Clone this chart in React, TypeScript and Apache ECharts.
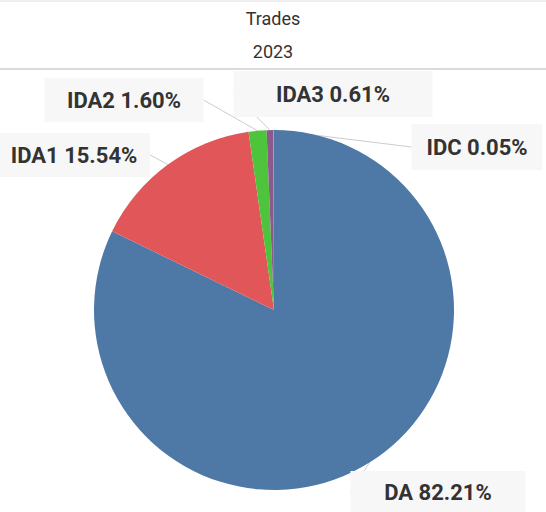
import React, { useEffect, useRef } from "react";
import * as echarts from "echarts";

const categories = ["DA", "IDA1", "IDA2", "IDA3", "IDC"];
const shares = [82.21, 15.54, 1.6, 0.61, 0.05];
const sliceColors = ["#4e79a7", "#e15759", "#4dc43b", "#8b5a8b", "#b07aa1"];
const titleText = "Trades";
const subTitleText = "2023";

// label placement (layout only, not data)
const labelSpots = [
  [438, 492],
  [74, 155],
  [124, 100],
  [333, 94],
  [477, 147],
];
const labelPads = [
  [10, 33],
  [11, 12],
  [11, 22],
  [12, 42],
  [12, 14],
];

const LABEL_FONT = "bold 22px Roboto";

function labelText(name: string, value: number) {
  return `${name} ${value.toFixed(2)}%`;
}

function measure(text: string) {
  const c = document.createElement("canvas");
  const ctx = c.getContext("2d")!;
  ctx.font = LABEL_FONT;
  return Math.ceil(ctx.measureText(text).width) + 1;
}

export default function App() {
  const ref = useRef<HTMLDivElement>(null);
  useEffect(() => {
    document.body.style.margin = "0";
    const chart = echarts.init(ref.current!, null, { renderer: "svg" });
    const data = categories.map((name, i) => ({
      name,
      value: shares[i],
      itemStyle: { color: sliceColors[i] },
      label: { padding: labelPads[i], width: measure(labelText(name, shares[i])) },
    }));
    chart.setOption({
      animation: false,
      backgroundColor: "#ffffff",
      title: [
        {
          text: titleText,
          left: "center",
          top: 4,
          textStyle: { fontFamily: "Roboto", fontSize: 18, fontWeight: "normal", color: "#333333" },
        },
        {
          text: subTitleText,
          left: "center",
          top: 37,
          textStyle: { fontFamily: "Roboto", fontSize: 18, fontWeight: "normal", color: "#333333" },
        },
      ],
      graphic: [
        { type: "rect", shape: { x: 0, y: 0, width: 546, height: 2 }, style: { fill: "#efefef" }, silent: true },
        { type: "rect", shape: { x: 0, y: 68, width: 546, height: 2 }, style: { fill: "#dadada" }, silent: true },
      ],
      series: [
        {
          type: "pie",
          center: [274, 310],
          radius: 180,
          startAngle: 90,
          clockwise: true,
          data,
          label: {
            show: true,
            position: "outside",
            overflow: "none",
            align: "center",
            formatter: (p: any) => labelText(p.name, Number(p.value)),
            fontFamily: "Roboto",
            fontWeight: "bold",
            fontSize: 22,
            color: "#333333",
            backgroundColor: "#f7f7f7",
          },
          labelLine: {
            show: true,
            length: 12,
            length2: 0,
            lineStyle: { color: "#cccccc", width: 1 },
          },
          labelLayout: (params: any) => {
            const spot = labelSpots[params.dataIndex];
            return { x: spot[0], y: spot[1], align: "center", verticalAlign: "middle" };
          },
          emphasis: { disabled: true },
        },
      ],
    });
    return () => chart.dispose();
  }, []);
  return <div ref={ref} style={{ width: 546, height: 512 }} />;
}
